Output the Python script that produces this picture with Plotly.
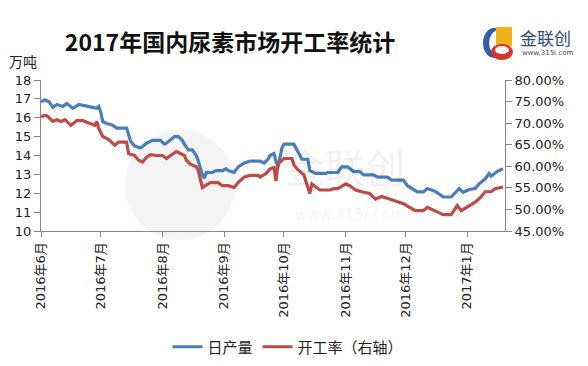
import plotly.graph_objects as go

# ---------------- data ----------------
blue_dates = ["2016-06-01","2016-06-03","2016-06-05","2016-06-07","2016-06-09","2016-06-12","2016-06-14",
              "2016-06-17","2016-06-20","2016-06-23","2016-06-27","2016-06-29","2016-06-30","2016-07-01",
              "2016-07-02","2016-07-04","2016-07-07","2016-07-09","2016-07-14","2016-07-15","2016-07-16",
              "2016-07-18","2016-07-21","2016-07-24","2016-07-27","2016-07-31","2016-08-02","2016-08-03",
              "2016-08-05","2016-08-07","2016-08-09","2016-08-11","2016-08-12","2016-08-14","2016-08-16",
              "2016-08-18","2016-08-19","2016-08-21","2016-08-22","2016-08-23","2016-08-26","2016-08-28",
              "2016-08-31","2016-09-02","2016-09-03","2016-09-06","2016-09-08","2016-09-11","2016-09-14",
              "2016-09-19","2016-09-21","2016-09-23","2016-09-24","2016-09-26","2016-09-27","2016-09-28",
              "2016-09-30","2016-10-01","2016-10-06","2016-10-08","2016-10-10","2016-10-13","2016-10-14",
              "2016-10-17","2016-10-22","2016-10-23","2016-10-28","2016-10-30","2016-11-02","2016-11-05",
              "2016-11-08","2016-11-10","2016-11-15","2016-11-17","2016-11-22","2016-11-24","2016-11-30",
              "2016-12-02","2016-12-07","2016-12-10","2016-12-12","2016-12-16","2016-12-20","2016-12-24",
              "2016-12-26","2016-12-28","2016-12-30","2017-01-02","2017-01-05","2017-01-07","2017-01-10",
              "2017-01-12","2017-01-13","2017-01-16","2017-01-19"]
daily_output = [16.85,16.95,16.85,16.55,16.7,16.6,16.75,
                16.5,16.7,16.65,16.55,16.5,16.6,16.3,
                15.8,15.7,15.6,15.45,15.45,15.1,14.75,
                14.5,14.4,14.65,14.8,14.8,14.6,14.65,
                14.8,15.0,15.0,14.8,14.6,14.3,14.3,
                14.0,13.7,13.0,12.8,13.1,13.1,13.2,
                13.2,13.3,13.2,13.1,13.4,13.6,13.7,
                13.7,13.6,13.8,14.0,14.1,13.7,13.4,
                14.4,14.6,14.6,14.2,13.8,13.8,13.2,
                13.05,13.05,13.1,13.1,13.4,13.4,13.15,
                13.15,12.97,12.97,12.85,12.85,12.7,12.7,
                12.4,12.07,12.07,12.25,12.1,11.8,11.8,
                12.05,12.25,12.05,12.2,12.25,12.5,12.75,
                13.05,12.9,13.15,13.3]

red_dates = ["2016-06-01","2016-06-03","2016-06-04","2016-06-07","2016-06-09","2016-06-11","2016-06-13",
             "2016-06-14","2016-06-16","2016-06-19","2016-06-22","2016-06-24","2016-06-27","2016-06-28",
             "2016-06-29","2016-06-30","2016-07-02","2016-07-05","2016-07-08","2016-07-10","2016-07-14",
             "2016-07-15","2016-07-18","2016-07-20","2016-07-22","2016-07-24","2016-07-26","2016-07-29",
             "2016-08-01","2016-08-03","2016-08-05","2016-08-08","2016-08-09","2016-08-12","2016-08-13",
             "2016-08-15","2016-08-18","2016-08-19","2016-08-21","2016-08-23","2016-08-25","2016-08-29",
             "2016-08-31","2016-09-03","2016-09-06","2016-09-08","2016-09-11","2016-09-14","2016-09-18",
             "2016-09-19","2016-09-22","2016-09-24","2016-09-26","2016-09-27","2016-09-28","2016-10-01",
             "2016-10-05","2016-10-06","2016-10-08","2016-10-11","2016-10-14","2016-10-15","2016-10-18",
             "2016-10-19","2016-10-24","2016-10-26","2016-10-28","2016-11-01","2016-11-03","2016-11-06",
             "2016-11-09","2016-11-13","2016-11-16","2016-11-19","2016-11-23","2016-11-26","2016-11-30",
             "2016-12-06","2016-12-10","2016-12-12","2016-12-16","2016-12-20","2016-12-24","2016-12-27",
             "2016-12-29","2017-01-02","2017-01-05","2017-01-08","2017-01-10","2017-01-13","2017-01-15",
             "2017-01-19"]
operating_rate = [71.5,71.8,71.7,70.4,70.8,70.4,70.8,
                  70.4,69.5,70.6,70.6,70.2,69.7,69.5,
                  70.4,68.8,66.9,66.2,64.9,65.6,65.6,
                  62.9,62.5,61.4,61.0,62.1,62.7,62.5,
                  62.5,61.8,62.5,63.4,63.2,62.5,61.4,
                  60.5,59.9,59.0,55.1,55.7,56.2,56.2,
                  55.5,55.5,55.1,56.2,57.5,57.9,57.9,
                  57.5,58.3,59.4,59.7,56.6,60.5,61.8,
                  61.8,60.3,59.2,58.0,53.7,55.9,54.8,
                  54.5,54.5,54.8,54.8,55.9,55.5,54.5,
                  54.1,53.7,52.4,53.0,52.4,52.0,51.3,
                  49.7,49.7,50.5,49.7,48.8,48.8,50.9,
                  49.7,50.9,51.7,52.9,54.1,54.1,54.8,
                  55.2]

month_ticks = ["2016-06-01","2016-07-01","2016-08-01","2016-09-01","2016-10-01",
               "2016-11-01","2016-12-01","2017-01-01"]
month_labels = ["2016年6月","2016年7月","2016年8月","2016年9月","2016年10月",
                "2016年11月","2016年12月","2017年1月"]

BLUE = "#4A7EBB"
RED = "#BE4B48"
AXIS = "#868686"
FONT = "DejaVu Sans, Noto Sans CJK SC"

# The page body has an 8px margin: the figure starts at (8, 8) on screen.
OFF = 8
W, H = 588 - OFF, 366 - OFF
# plot-area screen-pixel geometry
L, R, T, B = 41, 505, 80, 231
def px(x):
    return (x - L) / (R - L)
def py(y):
    return (B - y) / (B - T)

fig = go.Figure()
fig.add_trace(go.Scatter(x=blue_dates, y=daily_output, name="日产量", mode="lines",
                         line=dict(color=BLUE, width=3.2), yaxis="y"))
fig.add_trace(go.Scatter(x=red_dates, y=operating_rate, name="开工率（右轴）", mode="lines",
                         line=dict(color=RED, width=3.2), yaxis="y2"))

fig.update_layout(
    width=W, height=H,
    margin=dict(l=L - OFF, r=588 - R, t=T - OFF, b=366 - B, autoexpand=False),
    paper_bgcolor="white", plot_bgcolor="white",
    font=dict(family=FONT, size=13, color="#222222"),
    showlegend=True,
    legend=dict(orientation="h", x=(288 - OFF) / W, xanchor="center", y=1 - (347 - OFF) / H,
                yanchor="middle", xref="container", yref="container",
                font=dict(size=15, family="Noto Sans CJK SC", color="#222"),
                itemwidth=30, tracegroupgap=0),
    title=dict(text="2017年国内尿素市场开工率统计", x=(230 - OFF) / W, xanchor="center",
               xref="container", y=1 - (43 - OFF) / H, yanchor="middle", yref="container",
               font=dict(family="Noto Sans CJK SC", size=23, color="#111111", weight="bold")),
    xaxis=dict(type="date", range=["2016-06-01", "2017-01-20"], tickmode="array",
               tickvals=month_ticks, ticktext=month_labels, tickangle=-90,
               showgrid=False, showline=True, linecolor=AXIS, linewidth=1,
               ticks="outside", ticklen=5, tickcolor=AXIS, zeroline=False,
               tickfont=dict(size=13, family=FONT, color="#222")),
    yaxis=dict(range=[10, 18], dtick=1, showgrid=False, showline=True, linecolor=AXIS,
               ticks="outside", ticklen=6, tickcolor=AXIS, zeroline=False,
               tickfont=dict(size=13, family="DejaVu Sans", color="#222")),
    yaxis2=dict(range=[45, 80], dtick=5, overlaying="y", side="right", showgrid=False,
                showline=True, linecolor=AXIS, ticks="outside", ticklen=6, tickcolor=AXIS,
                tickformat=".2f", ticksuffix="%", zeroline=False,
                tickfont=dict(size=13, family="DejaVu Sans", color="#222")),
)

# watermark (faint)
fig.add_shape(type="circle", xref="paper", yref="paper", layer="below",
              x0=px(125), x1=px(235), y0=py(240), y1=py(130),
              line=dict(width=0), fillcolor="rgba(0,0,0,0.045)")
fig.add_annotation(text="金联创", xref="paper", yref="paper", x=px(345), y=py(166),
                   showarrow=False, borderpad=0,
                   font=dict(size=40, family="Noto Sans CJK SC", color="rgba(0,0,0,0.06)"))
fig.add_annotation(text="www.315i.com", xref="paper", yref="paper", x=px(350), y=py(225),
                   showarrow=False, borderpad=0,
                   font=dict(size=15, family="DejaVu Sans", color="rgba(0,0,0,0.06)"))

# unit label
fig.add_annotation(text="万吨", xref="paper", yref="paper", x=px(7), y=py(61), xanchor="left",
                   yanchor="middle", showarrow=False,
                   font=dict(size=14, family="Noto Sans CJK SC", color="#222"))

# logo
fig.add_shape(type="circle", xref="paper", yref="paper", x0=px(483), x1=px(505), y0=py(58), y1=py(28),
              line=dict(width=0), fillcolor="#2F5FA8")
fig.add_shape(type="circle", xref="paper", yref="paper", x0=px(489), x1=px(509), y0=py(56), y1=py(30),
              line=dict(width=0), fillcolor="white")
fig.add_shape(type="rect", xref="paper", yref="paper", x0=px(496), x1=px(512), y0=py(46), y1=py(27),
              line=dict(width=0), fillcolor="#F2B21B")
fig.add_shape(type="circle", xref="paper", yref="paper", x0=px(491), x1=px(513), y0=py(60), y1=py(44),
              line=dict(width=0), fillcolor="#D9342B")
fig.add_shape(type="circle", xref="paper", yref="paper", x0=px(495), x1=px(509), y0=py(54), y1=py(46),
              line=dict(width=0), fillcolor="white")
fig.add_annotation(text="金联创", xref="paper", yref="paper", x=px(518), y=py(37), xanchor="left",
                   yanchor="middle", showarrow=False,
                   font=dict(size=17, family="Noto Sans CJK SC", color="#2B4C7E"))
fig.add_annotation(text="www.315i.com", xref="paper", yref="paper", x=px(520), y=py(53), xanchor="left",
                   yanchor="middle", showarrow=False,
                   font=dict(size=7, family="DejaVu Sans", color="#444"))

fig.write_html("out.html")
